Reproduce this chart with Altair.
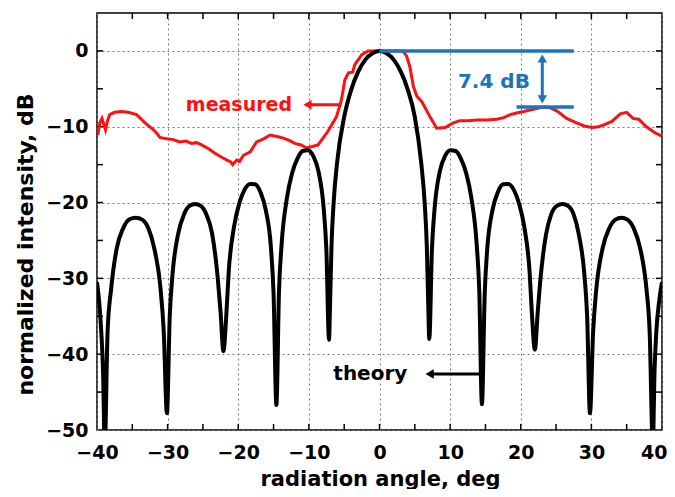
import altair as alt
import pandas as pd

# ---------------- data ----------------
theory_x = [-40, -39.7, -39.4, -39.15, -38.9,
            -38.5, -38.0, -37.2, -36.3, -35.4, -34.5, -33.6, -32.7, -31.9, -31.0, -30.55, -30.1,
            -29.7, -29.3, -28.5, -27.7, -26.9, -26.1, -25.3, -24.5, -23.7, -22.9, -22.5, -22.1,
            -21.7, -21.35, -20.6, -19.85, -19.1, -18.35, -17.6, -16.85, -16.1, -15.35, -15.0, -14.6,
            -14.23, -13.86, -13.11, -12.37, -11.62, -10.88, -10.13, -9.39, -8.64, -7.9, -7.52, -7.15,
            -7.0, -6.8, -6.5, -6.0, -5.0, -4.0, -3.0, -2.0, -1.0, 0, 1.0, 2.0, 3.0, 4.0, 5.0, 5.9, 6.4, 6.7, 6.9, 7.05,
            7.42, 7.8, 8.54, 9.29, 10.03, 10.78, 11.52, 12.27, 13.01, 13.76, 14.13, 14.5,
            14.9, 15.25, 16.0, 16.75, 17.5, 18.25, 19.0, 19.75, 20.5, 21.25, 21.6, 22.0,
            22.4, 22.8, 23.6, 24.3, 25.1, 25.9, 26.7, 27.5, 28.2, 29.0, 29.4, 29.8,
            30.25, 30.7, 31.6, 32.5, 33.4, 34.25, 35.1, 36.0, 36.9, 37.8, 38.25, 38.7,
            38.95, 39.2, 39.6, 40]
theory_y = [-30.5, -33, -37, -42, -52,
            -37, -31.4, -26, -23.4, -22.2, -22, -22.25, -23.45, -26, -31.4, -37, -47.8,
            -35, -29.4, -24.1, -21.6, -20.45, -20.2, -20.45, -21.6, -24.1, -30, -34.5, -39.6,
            -35, -29.1, -23.2, -20.1, -18.3, -17.55, -17.6, -18.65, -21.0, -26.2, -32, -46.7,
            -31.7, -25.5, -19.4, -16.1, -14.2, -13.2, -13.1, -13.85, -15.9, -20.8, -26.3, -38.1,
            -33.4, -25.8, -20.1, -14.7, -8.7, -5.1, -2.7, -1.15, -0.3, 0, -0.3, -1.15, -2.7, -5.1, -8.7, -14.7, -20.1, -25.8, -33.4, -38,
            -26.3, -20.8, -15.9, -13.85, -13.1, -13.2, -14.2, -16.1, -19.4, -25.5, -31.7, -46.6,
            -32, -26.2, -21.0, -18.65, -17.6, -17.55, -18.3, -20.1, -23.2, -29.1, -35, -39.4,
            -34.5, -30, -24.1, -21.6, -20.45, -20.2, -20.45, -21.6, -24.1, -29.4, -35, -47.8,
            -37, -31.4, -26, -23.45, -22.25, -22, -22.25, -23.4, -26, -31.4, -37, -52,
            -42, -37, -33, -30.5]

measured_x = [-39.9, -39.6, -39.3, -38.8, -38.5, -38.2, -37.5, -36.5, -35.6, -34.4, -33.2, -32.0, -31.5, -31.1,
              -30.1, -29.2, -28.3, -27.4, -26.6, -25.9, -25.2, -24.2, -23.3, -22.4, -21.6, -21.1, -20.8,
              -20.2, -19.8, -19.3, -18.3, -17.4, -16.4, -15.5, -14.5, -13.6, -12.8, -12.0, -11.1, -10.3,
              -9.5, -8.7, -7.3, -6.1, -5.4, -4.9, -4.4, -3.8, -3.5, -2.5, -1.6, -0.4, 1.0, 2.0, 3.3,
              3.85, 4.3, 4.8, 5.3, 6.0, 7.15, 8.1, 9.3, 10.45, 11.4, 12.5, 13.8, 15.2, 16.6, 17.6, 18.5,
              19.4, 20.4, 21.3, 21.8, 23.2, 24.2, 25.1, 26.5, 27.9, 29.0, 30.1, 31.0, 31.7, 32.9, 34.1,
              35.0, 35.9, 36.7, 37.8, 39.0, 39.9]
measured_y = [-11.1, -9.5, -8.9, -10.4, -9.2, -8.4, -8.1, -8.0, -8.1, -8.4, -9.5, -10.4, -10.9, -11.4,
              -11.6, -11.7, -12.0, -11.9, -12.2, -12.1, -12.4, -12.9, -13.5, -14.0, -14.4, -14.6, -15.0,
              -14.4, -14.6, -13.8, -13.3, -12.0, -11.6, -11.1, -11.3, -11.5, -11.8, -12.2, -12.4, -12.8,
              -12.6, -12.4, -10.6, -8.7, -6.5, -3.8, -2.9, -2.8, -1.8, -0.5, 0, 0, 0, 0, 0,
              -0.7, -2.1, -4.7, -6.0, -6.7, -8.7, -10.2, -10.1, -9.5, -9.2, -9.2, -9.1, -9.1, -9.0, -8.8, -8.4,
              -8.2, -8.0, -7.8, -7.7, -7.4, -7.5, -7.9, -8.9, -9.5, -9.9, -10.1, -10.0, -9.8, -9.3, -8.3,
              -8.1, -8.9, -9.0, -10.0, -10.8, -11.2]

x_label_values = [-40, -30, -20, -10, 0, 10, 20, 30, 40]
y_label_values = [-50, -40, -30, -20, -10, 0]
x_tick_values = [-35, -30, -25, -20, -15, -10, -5, 0, 5, 10, 15, 20, 25, 30, 35]
y_tick_values = [-45, -40, -35, -30, -25, -20, -15, -10, -5, 0]

# annotations (data units)
gap_text = ["7.4 dB"]
gap_text_x = [16.2]
gap_text_y = [-4.05]
top_line = {"x": [0], "x2": [27.5], "y": [0]}
low_line = {"x": [19.4], "x2": [27.5], "y": [-7.4]}
gap_arrow = {"x": [23.05], "y": [-0.9], "y2": [-6.5]}
gap_heads = {"x": [23.05, 23.05], "y": [-1.0, -6.4], "shape": ["triangle-up", "triangle-down"]}

meas_label = {"t": ["measured"], "x": [-19.9], "y": [-7.1]}
meas_arrow = {"x": [-5.4], "x2": [-10.0], "y": [-7.1]}
meas_head = {"x": [-10.2], "y": [-7.1]}

theo_label = {"t": ["theory"], "x": [-1.3], "y": [-42.6]}
theo_arrow = {"x": [14.5], "x2": [7.3], "y": [-42.6]}
theo_head = {"x": [7.1], "y": [-42.6]}

# ---------------- chart ----------------
W, H = 565, 417
FONT = "DejaVu Sans"
RED = "#ff1010"
BLUE = "#1b75bb"

xs = alt.Scale(domain=[-40, 40], nice=False, zero=False)
ys = alt.Scale(domain=[-50, 5], nice=False, zero=False)

x_axis = alt.Axis(values=x_label_values, grid=True, gridDash=[2, 3], gridColor="#7a7a7a",
                  gridWidth=1, ticks=False, tickSize=0, domain=False, labelFont=FONT,
                  labelFontWeight="bold", labelFontSize=19, labelColor="black", labelPadding=13,
                  labelAlign={"condition": {"test": "datum.value === 40", "value": "right"},
                              "value": "center"},
                  labelOffset={"condition": {"test": "datum.value === 40", "value": 5},
                               "value": 0},
                  title="radiation angle, deg", titleFont=FONT, titleFontWeight="bold",
                  titleFontSize=21, titleColor="black", titleX=283, titleY=49,
                  titleBaseline="middle", labelFlush=False)
y_axis = alt.Axis(values=y_label_values, grid=True, gridDash=[2, 3], gridColor="#7a7a7a",
                  gridWidth=1, ticks=False, tickSize=0, domain=False, labelFont=FONT,
                  labelFontWeight="bold", labelFontSize=19, labelColor="black", labelPadding=9,
                  title="normalized intensity, dB", titleFont=FONT, titleFontWeight="bold",
                  titleFontSize=22, titleColor="black", titleX=-72, titleY=231,
                  titleBaseline="middle", titleAngle=270, labelFlush=False)

theory_df = pd.DataFrame({"x": theory_x, "y": theory_y})
meas_df = pd.DataFrame({"x": measured_x, "y": measured_y})

base_grid = alt.Chart(pd.DataFrame({"x": [0], "y": [0]})).mark_point(opacity=0).encode(
    x=alt.X("x:Q", scale=xs, axis=x_axis),
    y=alt.Y("y:Q", scale=ys, axis=y_axis),
)

theory = alt.Chart(theory_df).mark_line(color="black", strokeWidth=4, clip=True,
                                        interpolate="monotone").encode(
    x=alt.X("x:Q", scale=xs), y=alt.Y("y:Q", scale=ys), order="x:Q")

measured = alt.Chart(meas_df).mark_line(color=RED, strokeWidth=3, clip=True).encode(
    x=alt.X("x:Q", scale=xs), y=alt.Y("y:Q", scale=ys))

xt = pd.DataFrame({"v": x_tick_values})
yt = pd.DataFrame({"v": y_tick_values})
TL = 6
tick_b = alt.Chart(xt).mark_rule(color="black", strokeWidth=1.5).encode(
    x=alt.X("v:Q", scale=xs), y=alt.value(H), y2=alt.value(H - TL))
tick_t = alt.Chart(xt).mark_rule(color="black", strokeWidth=1.5).encode(
    x=alt.X("v:Q", scale=xs), y=alt.value(0), y2=alt.value(TL))
tick_l = alt.Chart(yt).mark_rule(color="black", strokeWidth=1.5).encode(
    y=alt.Y("v:Q", scale=ys), x=alt.value(0), x2=alt.value(TL))
tick_r = alt.Chart(yt).mark_rule(color="black", strokeWidth=1.5).encode(
    y=alt.Y("v:Q", scale=ys), x=alt.value(W), x2=alt.value(W - TL))

def hline(d, color, width):
    return alt.Chart(pd.DataFrame(d)).mark_rule(color=color, strokeWidth=width).encode(
        x=alt.X("x:Q", scale=xs), x2="x2:Q", y=alt.Y("y:Q", scale=ys))

blue_top = hline(top_line, BLUE, 3.5)
blue_low = hline(low_line, BLUE, 3.5)
blue_arrow = alt.Chart(pd.DataFrame(gap_arrow)).mark_rule(color=BLUE, strokeWidth=3).encode(
    x=alt.X("x:Q", scale=xs), y=alt.Y("y:Q", scale=ys), y2="y2:Q")
blue_heads = alt.Chart(pd.DataFrame(gap_heads)).mark_point(
    color=BLUE, filled=True, opacity=1, size=90).encode(
    x=alt.X("x:Q", scale=xs), y=alt.Y("y:Q", scale=ys),
    shape=alt.Shape("shape:N", scale=None, legend=None))
blue_text = alt.Chart(pd.DataFrame({"t": gap_text, "x": gap_text_x, "y": gap_text_y})).mark_text(
    font=FONT, fontWeight="bold", fontSize=20, color=BLUE, align="center", baseline="middle").encode(
    x=alt.X("x:Q", scale=xs), y=alt.Y("y:Q", scale=ys), text="t:N")

m_text = alt.Chart(pd.DataFrame(meas_label)).mark_text(
    font=FONT, fontWeight="bold", fontSize=19, color=RED, align="center", baseline="middle").encode(
    x=alt.X("x:Q", scale=xs), y=alt.Y("y:Q", scale=ys), text="t:N")
m_arrow = hline(meas_arrow, RED, 3)
m_head = alt.Chart(pd.DataFrame(meas_head)).mark_point(
    shape="triangle-left", color=RED, filled=True, opacity=1, size=90).encode(
    x=alt.X("x:Q", scale=xs), y=alt.Y("y:Q", scale=ys))

t_text = alt.Chart(pd.DataFrame(theo_label)).mark_text(
    font=FONT, fontWeight="bold", fontSize=20, color="black", align="center", baseline="middle").encode(
    x=alt.X("x:Q", scale=xs), y=alt.Y("y:Q", scale=ys), text="t:N")
t_arrow = hline(theo_arrow, "black", 3)
t_head = alt.Chart(pd.DataFrame(theo_head)).mark_point(
    shape="triangle-left", color="black", filled=True, opacity=1, size=90).encode(
    x=alt.X("x:Q", scale=xs), y=alt.Y("y:Q", scale=ys))

chart = alt.layer(
    base_grid, tick_b, tick_t, tick_l, tick_r,
    measured, theory,
    blue_top, blue_low, blue_arrow, blue_heads, blue_text,
    m_text, m_arrow, m_head, t_text, t_arrow, t_head,
).properties(
    width=W, height=H,
    autosize=alt.AutoSizeParams(type="none"),
    padding={"left": 89, "top": 5, "right": 5, "bottom": 59},
    background="white",
).configure_view(stroke="black", strokeWidth=1.5)

chart.save("out.html", embed_options={"renderer": "svg", "actions": False})
